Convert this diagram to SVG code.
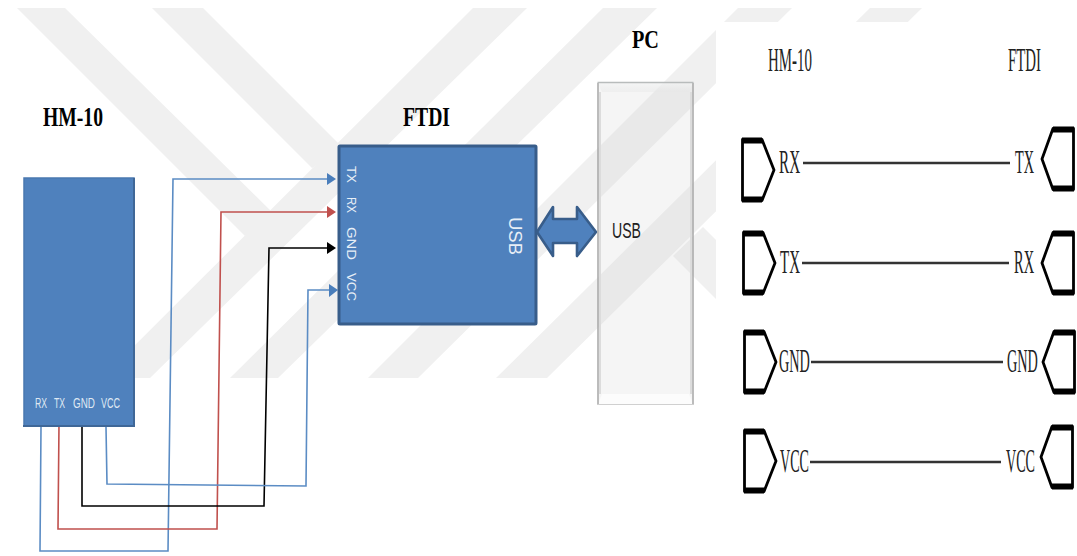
<svg xmlns="http://www.w3.org/2000/svg" width="1077" height="556" viewBox="0 0 1077 556">
<style>
.wm{fill:#f0f0f0}
.block{fill:#4f81bd;stroke:#4a78b0;stroke-width:1.500}
.edge{fill:none;stroke:#3f6797;stroke-width:2}
.wire{fill:none;stroke-width:1.600;stroke-linejoin:miter}
.blue{stroke:#5b8cc4}.red{stroke:#c0504d}.black{stroke:#000}
.head-blue{fill:#4a7ebb}.head-red{fill:#c0504d}.head-black{fill:#000}
.title{font-family:"Liberation Serif",serif;font-weight:bold;fill:#000}
.sch{font-family:"Liberation Serif",serif;fill:#222;font-size:34px}
.pin{font-family:"Liberation Sans",sans-serif;fill:#dfe8f3;font-size:15px}
.rpin{font-family:"Liberation Sans",sans-serif;fill:#e8eff7;font-size:13px}
.line{stroke:#333;stroke-width:2.400;fill:none}
.shell{fill:none;stroke:#000;stroke-width:2.800;stroke-linejoin:round}
.cap{fill:none;stroke:#000;stroke-width:6}
</style>
<defs>
<g id="conn-l">
<path class="shell" d="M1.500,-30.500H21L33,0L21,30.500H1.500Z"/>
<path class="cap" d="M1,-29.500H21M1,29.500H21"/>
</g>
<g id="conn-r">
<path class="shell" d="M32.500,-30.500H12L1,0L12,30.500H32.500Z"/>
<path class="cap" d="M33,-29.500H12M33,29.500H12"/>
</g>
<linearGradient id="pcTop" x1="0" y1="0" x2="0" y2="1"><stop offset="0" stop-color="#f4f6f6"/><stop offset="1" stop-color="#e6e6e6" stop-opacity=".6"/></linearGradient>
</defs>
<rect width="1077" height="556" fill="#fff"/>
<g id="watermark">
<polygon class="wm" points="17,8 65,8 272,212 245,236"/>
<polygon class="wm" points="152,8 203,8 344,149 312,168"/>
<polygon class="wm" points="673,256 703,227 716,240 716,299"/>
<polygon class="wm" points="473,8 527,8 150,378 102,378"/>
<polygon class="wm" points="603,8 657,8 278,378 230,378"/>
<polygon class="wm" points="738,8 792,8 418,378 368,378"/>
<polygon class="wm" points="870,8 922,8 547,378 496,378"/>
</g>
<rect x="716" y="22" width="361" height="534" fill="#fff"/>
<g id="connectors">
<path class="wire blue" d="M41,427L40,551H168L173,179H328"/>
<polygon class="head-blue" points="327,173 336,179 327,185"/>
<path class="wire red" d="M59,424L58,529H217L221,212H328"/>
<polygon class="head-red" points="327,206 336,212 327,218"/>
<path class="wire black" d="M82,425V506H264L269,248H328"/>
<polygon class="head-black" points="327,242 336,248 327,254"/>
<path class="wire blue" d="M106,427L107,484L306,486L308,290H330"/>
<polygon class="head-blue" points="329,284 338,290 329,297"/>
</g>
<g id="hm10">
<rect class="block" x="24" y="178" width="110" height="248"/>
<path class="edge" d="M134,178V426H23"/>
<text class="title" x="43" y="126" font-size="27" textLength="60" lengthAdjust="spacingAndGlyphs">HM-10</text>
<text class="pin" transform="translate(35,408) scale(.58,1)">RX</text>
<text class="pin" transform="translate(54,408) scale(.58,1)">TX</text>
<text class="pin" transform="translate(73,408) scale(.66,1)">GND</text>
<text class="pin" transform="translate(101,408) scale(.6,1)">VCC</text>
</g>
<g id="ftdi">
<rect x="339" y="146" width="197" height="178" fill="#4f81bd" stroke="#385d8a" stroke-width="3" rx="1"/>
<text class="title" x="403" y="126" font-size="27" textLength="47" lengthAdjust="spacingAndGlyphs">FTDI</text>
<text class="rpin" transform="translate(347,166) rotate(90)" textLength="17" lengthAdjust="spacingAndGlyphs">TX</text>
<text class="rpin" transform="translate(347,197) rotate(90)" textLength="16" lengthAdjust="spacingAndGlyphs">RX</text>
<text class="rpin" transform="translate(347,227) rotate(90)" textLength="33" lengthAdjust="spacingAndGlyphs">GND</text>
<text class="rpin" transform="translate(347,273) rotate(90)" textLength="28" lengthAdjust="spacingAndGlyphs">VCC</text>
<text class="rpin" transform="translate(509,217) rotate(90)" style="font-size:18px" textLength="38" lengthAdjust="spacingAndGlyphs">USB</text>
</g>
<g id="usb-link">
<polygon points="537,232 553,207 553,219 577,219 577,207 596,232 577,256 577,243 553,243 553,256" fill="#4f81bd" stroke="#385d8a" stroke-width="2.600" stroke-linejoin="round"/>
</g>
<g id="pc">
<rect x="597.500" y="82.500" width="96" height="321.500" fill="#d5d5d5" fill-opacity=".24"/>
<polygon points="598,83 693,83 689,92 602,92" fill="url(#pcTop)" fill-opacity=".7"/>
<polygon points="598,404 693,404 689,394 602,394" fill="#fcfcfc"/>
<path d="M600,92V394M691,92V394" fill="none" stroke="#dcdcdc" stroke-width="2"/>
<path d="M598,83V404M693,83V404" fill="none" stroke="#a8a8a8" stroke-width="1.500"/>
<path d="M597.500,82.500H693.500" fill="none" stroke="#b8bcbc" stroke-width="1.300"/>
<path d="M597,404.500H694" stroke="#d0d0d0" stroke-width="1"/>
<text class="title" x="632" y="48" font-size="26" textLength="27" lengthAdjust="spacingAndGlyphs">PC</text>
<text x="612" y="238" font-family="'Liberation Sans',sans-serif" font-size="22" fill="#222" textLength="29" lengthAdjust="spacingAndGlyphs">USB</text>
</g>
<g id="schematic">
<text class="sch" transform="translate(768,71) scale(.44,1)">HM-10</text>
<text class="sch" transform="translate(1008,71) scale(.437,1)">FTDI</text>
<g id="row-rx">
<use href="#conn-l" x="741" y="170"/><use href="#conn-r" x="1041" y="159"/>
<text class="sch" transform="translate(779,173) scale(.447,1)">RX</text>
<path class="line" d="M803,163H1010"/>
<text class="sch" transform="translate(1015,173) scale(.42,1)">TX</text>
</g>
<g id="row-tx">
<use href="#conn-l" x="742" y="263"/><use href="#conn-r" x="1041" y="263"/>
<text class="sch" transform="translate(780,273) scale(.44,1)">TX</text>
<path class="line" d="M802,263H1009"/>
<text class="sch" transform="translate(1014,273) scale(.425,1)">RX</text>
</g>
<g id="row-gnd">
<use href="#conn-l" x="743" y="362"/><use href="#conn-r" x="1042" y="362"/>
<text class="sch" transform="translate(779,372) scale(.42,1)">GND</text>
<path class="line" d="M811,362H1003"/>
<text class="sch" transform="translate(1007,372) scale(.42,1)">GND</text>
</g>
<g id="row-vcc">
<use href="#conn-l" x="743" y="461"/><use href="#conn-r" x="1040" y="457"/>
<text class="sch" transform="translate(780,472) scale(.414,1)">VCC</text>
<path class="line" d="M810,462H1001"/>
<text class="sch" transform="translate(1006,472) scale(.414,1)">VCC</text>
</g>
</g>
</svg>
